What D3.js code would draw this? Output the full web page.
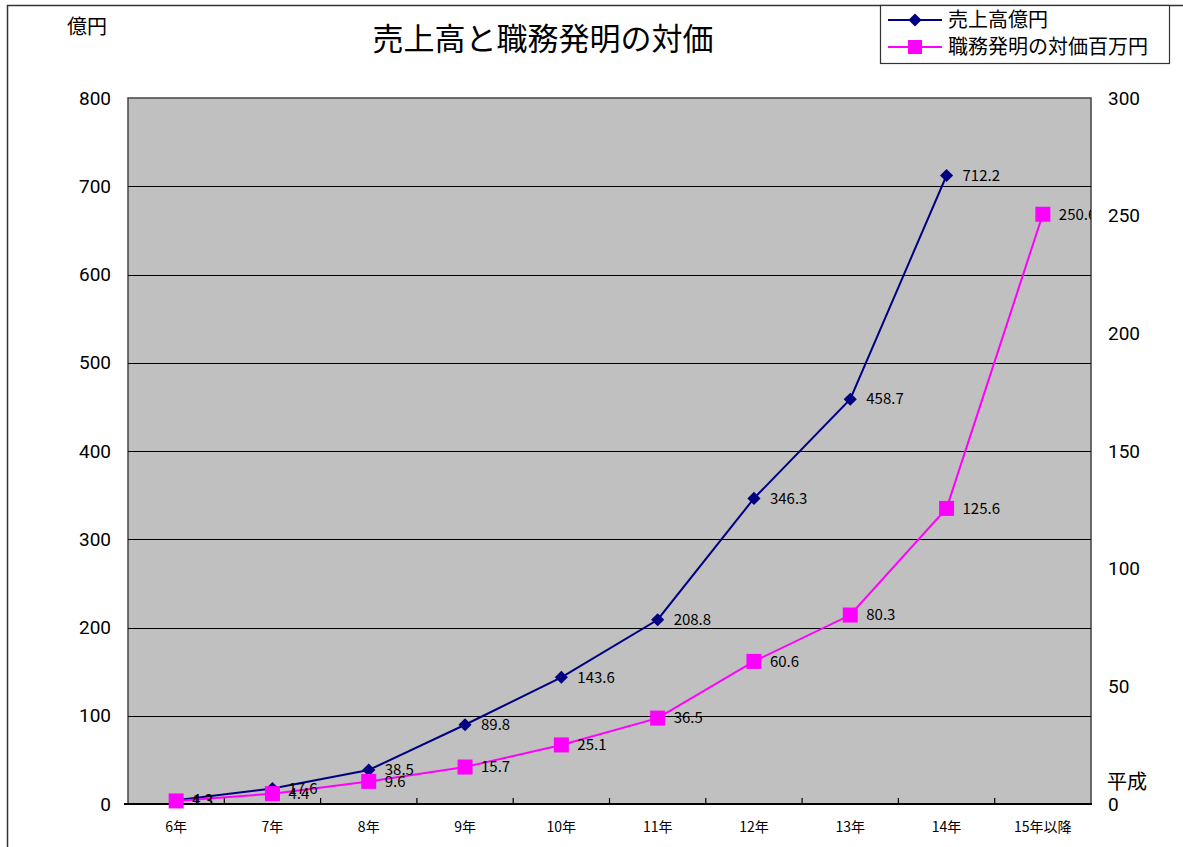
<!DOCTYPE html>
<html>
<head>
<meta charset="utf-8">
<script src="https://cdn.jsdelivr.net/npm/d3@7"></script>
<style>
  body { margin: 0; background: #fff; }
  text { font-family: "Noto Sans CJK JP", sans-serif; fill: #000; }
</style>
</head>
<body>
<svg id="chart"></svg>
<script>
const years = ['6年', '7年', '8年', '9年', '10年', '11年', '12年', '13年', '14年', '15年以降']
const sales = [4.3, 17.6, 38.5, 89.8, 143.6, 208.8, 346.3, 458.7, 712.2, null]
const reward = [1.3, 4.4, 9.6, 15.7, 25.1, 36.5, 60.6, 80.3, 125.6, 250.6]
const leftTicks = [0, 100, 200, 300, 400, 500, 600, 700, 800]
const rightTicks = [0, 50, 100, 150, 200, 250, 300]

const W = 1183, H = 847
const plot = { left: 128, right: 1091, top: 98, bottom: 804 }
const navy = '#000080', pink = '#ff00ff'

const svg = d3.select('#chart').attr('width', W).attr('height', H)

// outer chart frame (cut off on right and bottom)
svg.append('path')
  .attr('d', `M7.5,${H + 5}V5.5H${W + 5}`)
  .attr('fill', 'none').attr('stroke', '#333').attr('stroke-width', 1.5)

const x = d3.scaleBand().domain(years).range([plot.left, plot.right])
const yL = d3.scaleLinear().domain([0, 800]).range([plot.bottom, plot.top])
const yR = d3.scaleLinear().domain([0, 300]).range([plot.bottom, plot.top])

// plot area
svg.append('rect')
  .attr('x', plot.left).attr('y', plot.top)
  .attr('width', plot.right - plot.left).attr('height', plot.bottom - plot.top)
  .attr('fill', '#c0c0c0').attr('stroke', '#444').attr('stroke-width', 1.5)

svg.append('clipPath').attr('id', 'clip').append('rect')
  .attr('x', plot.left).attr('y', plot.top)
  .attr('width', plot.right - plot.left).attr('height', plot.bottom - plot.top)

// gridlines
svg.append('g').selectAll('line')
  .data(leftTicks.slice(1, -1))
  .join('line')
  .attr('x1', plot.left).attr('x2', plot.right)
  .attr('y1', d => Math.round(yL(d)) + 0.5).attr('y2', d => Math.round(yL(d)) + 0.5)
  .attr('stroke', '#000').attr('stroke-width', 1)

// left axis labels
svg.append('g').selectAll('text')
  .data(leftTicks)
  .join('text')
  .attr('x', 111).attr('y', d => yL(d))
  .attr('dy', '0.35em')
  .attr('text-anchor', 'end')
  .style('font-family', 'Roboto, sans-serif')
  .style('font-size', '19px')
  .text(d => d)

// right axis labels
svg.append('g').selectAll('text')
  .data(rightTicks)
  .join('text')
  .attr('x', 1108).attr('y', d => yR(d))
  .attr('dy', '0.35em')
  .style('font-family', 'Roboto, sans-serif')
  .style('font-size', '19px')
  .text(d => d)

svg.append('text').attr('x', 1107).attr('y', 789)
  .style('font-size', '20px').text('平成')
svg.append('text').attr('x', 67).attr('y', 34)
  .style('font-size', '20px').text('億円')

// x axis
svg.append('g')
  .attr('transform', `translate(0,${plot.bottom})`)
  .call(d3.axisBottom(x).tickSize(0).tickPadding(18))
  .call(g => g.select('.domain').remove())
  .call(g => g.selectAll('text')
    .style('font-family', '"Noto Sans CJK JP", sans-serif')
    .style('font-size', '14px')
    .attr('fill', '#000'))

svg.append('g').selectAll('line')
  .data(years.slice(1))
  .join('line')
  .attr('x1', d => x(d)).attr('x2', d => x(d))
  .attr('y1', plot.bottom).attr('y2', plot.bottom - 6)
  .attr('stroke', '#000').attr('stroke-width', 1.2)

svg.append('line')
  .attr('x1', plot.left - 4).attr('x2', plot.right + 1)
  .attr('y1', plot.bottom).attr('y2', plot.bottom)
  .attr('stroke', '#000').attr('stroke-width', 2)

const cx = d => x(d) + x.bandwidth() / 2

// sales series
const salesPts = years.map((d, i) => ({ cat: d, v: sales[i] })).filter(d => d.v != null)
svg.append('path')
  .datum(salesPts)
  .attr('fill', 'none').attr('stroke', navy).attr('stroke-width', 2)
  .attr('d', d3.line().x(d => cx(d.cat)).y(d => yL(d.v)))

// reward series
const rewardPts = years.map((d, i) => ({ cat: d, v: reward[i] }))
svg.append('path')
  .datum(rewardPts)
  .attr('fill', 'none').attr('stroke', pink).attr('stroke-width', 2)
  .attr('d', d3.line().x(d => cx(d.cat)).y(d => yR(d.v)))

svg.append('g').selectAll('path')
  .data(salesPts)
  .join('path')
  .attr('transform', d => `translate(${cx(d.cat)},${yL(d.v)})`)
  .attr('d', d3.symbol(d3.symbolDiamond2, 110))
  .attr('fill', navy)

svg.append('g').selectAll('rect')
  .data(rewardPts)
  .join('rect')
  .attr('x', d => cx(d.cat) - 7.5).attr('y', d => yR(d.v) - 7.5)
  .attr('width', 15).attr('height', 15)
  .attr('fill', pink)

// data labels (clipped to plot area)
const labels = svg.append('g').attr('clip-path', 'url(#clip)')
  .style('font-family', '"Liberation Sans Narrow", "Noto Sans CJK JP", sans-serif')
  .style('font-size', '15px')

labels.selectAll('text.s')
  .data(salesPts)
  .join('text')
  .attr('class', 's')
  .attr('x', d => cx(d.cat) + 16).attr('y', d => yL(d.v))
  .attr('dy', '0.35em')
  .attr('fill', '#222')
  .text(d => d.v)

labels.selectAll('text.r')
  .data(rewardPts)
  .join('text')
  .attr('class', 'r')
  .attr('x', d => cx(d.cat) + 16).attr('y', d => yR(d.v))
  .attr('dy', '0.35em')
  .attr('fill', '#222')
  .text(d => d.v)

// title
svg.append('text')
  .attr('x', 543).attr('y', 50)
  .attr('text-anchor', 'middle')
  .style('font-size', '31px')
  .text('売上高と職務発明の対価')

// legend
const lg = svg.append('g')
lg.append('rect')
  .attr('x', 880.5).attr('y', 5.5).attr('width', 289).attr('height', 58)
  .attr('fill', '#fff').attr('stroke', '#333').attr('stroke-width', 1.2)

const legendItems = [
  { name: '売上高億円', color: navy, mark: 'diamond' },
  { name: '職務発明の対価百万円', color: pink, mark: 'square' },
]
legendItems.forEach((d, i) => {
  const yy = 20 + i * 27
  lg.append('line')
    .attr('x1', 888).attr('x2', 942).attr('y1', yy).attr('y2', yy)
    .attr('stroke', d.color).attr('stroke-width', 2)
  if (d.mark === 'diamond') {
    lg.append('path')
      .attr('transform', `translate(915,${yy})`)
      .attr('d', d3.symbol(d3.symbolDiamond2, 110))
      .attr('fill', d.color)
  } else {
    lg.append('rect')
      .attr('x', 908).attr('y', yy - 7).attr('width', 14).attr('height', 14)
      .attr('fill', d.color)
  }
  lg.append('text')
    .attr('x', 948).attr('y', yy)
    .attr('dy', '0.36em')
    .style('font-size', '20px')
    .text(d.name)
})
</script>
</body>
</html>
